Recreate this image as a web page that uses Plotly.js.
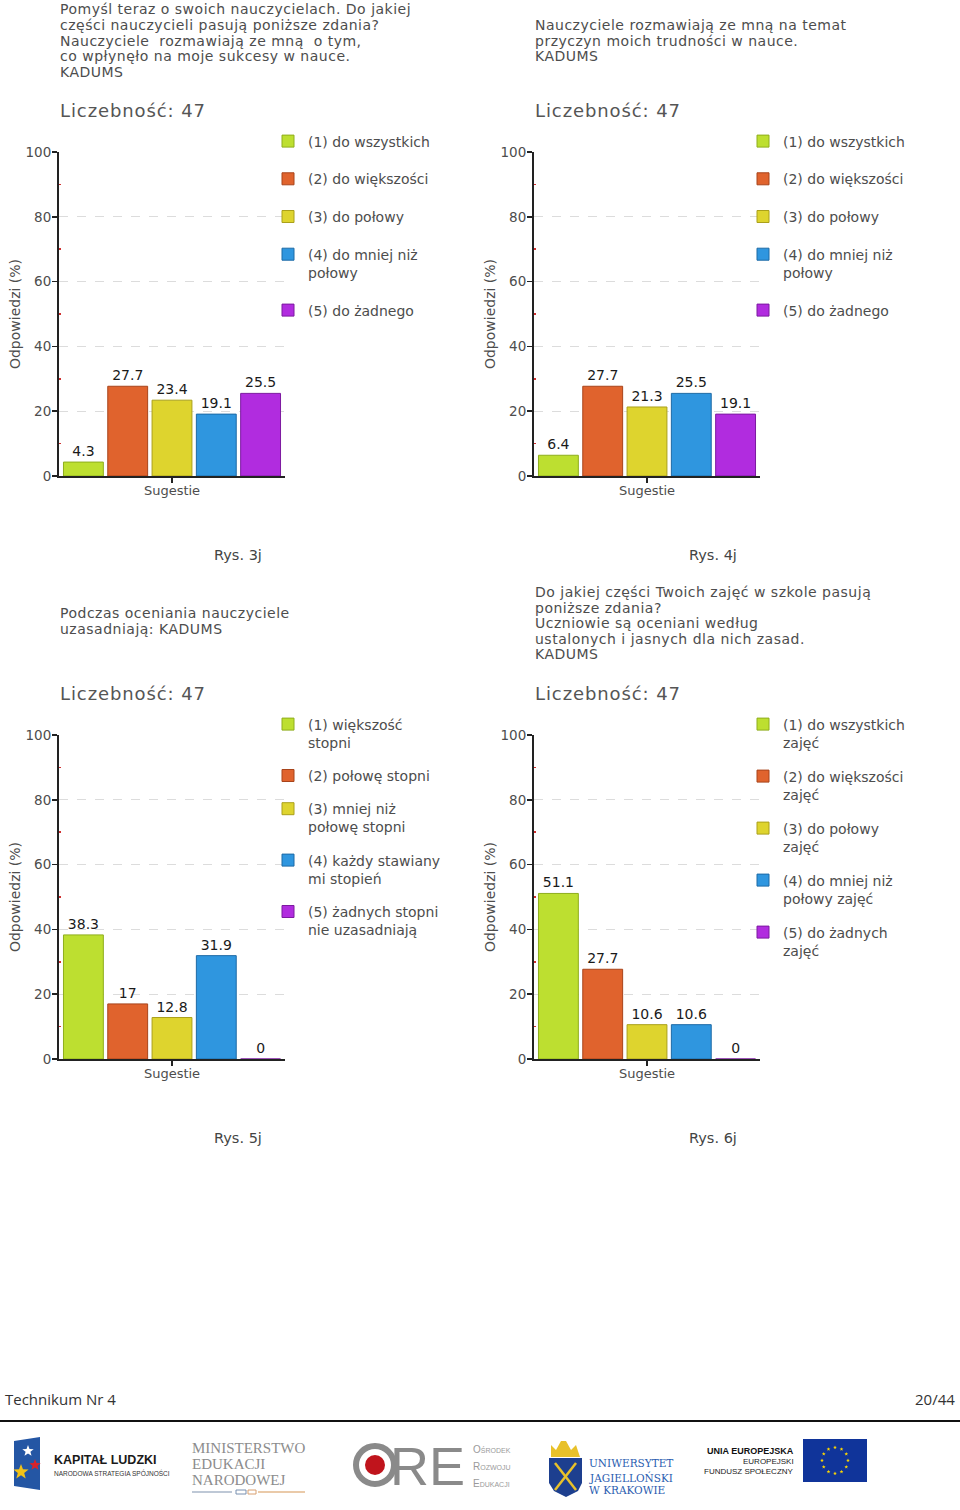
<!DOCTYPE html>
<html><head><meta charset="utf-8">
<script src="https://cdn.plot.ly/plotly-3.0.1.min.js"></script>
<style>html,body{margin:0;padding:0;background:#fff}#chart{width:960px;height:1510px}</style>
</head><body><div id="chart"></div>
<script>
// ---------------- DATA ----------------
const categories = ['Sugestie'];
const yTicks = [0, 20, 40, 60, 80, 100];
const yAxisTitle = 'Odpowiedzi (%)';
const countText = 'Liczebność: 47';

const titles3j = ['Pomyśl teraz o swoich nauczycielach. Do jakiej', 'części nauczycieli pasują poniższe zdania?', 'Nauczyciele  rozmawiają ze mną  o tym,', 'co wpłynęło na moje sukcesy w nauce.', 'KADUMS'];
const labels3j = ['(1) do wszystkich', '(2) do większości', '(3) do połowy', '(4) do mniej niż<br>połowy', '(5) do żadnego'];
const values3j = [4.3, 27.7, 23.4, 19.1, 25.5];

const titles4j = ['Nauczyciele rozmawiają ze mną na temat', 'przyczyn moich trudności w nauce.', 'KADUMS'];
const labels4j = ['(1) do wszystkich', '(2) do większości', '(3) do połowy', '(4) do mniej niż<br>połowy', '(5) do żadnego'];
const values4j = [6.4, 27.7, 21.3, 25.5, 19.1];

const titles5j = ['Podczas oceniania nauczyciele', 'uzasadniają: KADUMS'];
const labels5j = ['(1) większość<br>stopni', '(2) połowę stopni', '(3) mniej niż<br>połowę stopni', '(4) każdy stawiany<br>mi stopień', '(5) żadnych stopni<br>nie uzasadniają'];
const values5j = [38.3, 17, 12.8, 31.9, 0];

const titles6j = ['Do jakiej części Twoich zajęć w szkole pasują', 'poniższe zdania?', 'Uczniowie są oceniani według', 'ustalonych i jasnych dla nich zasad.', 'KADUMS'];
const labels6j = ['(1) do wszystkich<br>zajęć', '(2) do większości<br>zajęć', '(3) do połowy<br>zajęć', '(4) do mniej niż<br>połowy zajęć', '(5) do żadnych<br>zajęć'];
const values6j = [51.1, 27.7, 10.6, 10.6, 0];

const captions = ['Rys. 3j', 'Rys. 4j', 'Rys. 5j', 'Rys. 6j'];
const footerLeft = 'Technikum Nr 4';
const footerRight = '20/44';

// ---------------- STYLE / LAYOUT ----------------
const seriesColors = ['#bddf30', '#e0632d', '#ded42e', '#2f96df', '#b12cdf'];
const seriesLines = ['#8fae1c', '#a8441b', '#aaa01b', '#1d6aa6', '#7c1aa0'];
const W = 960, H = 1510;
const px = x => x / W;
const py = y => 1 - y / H;
const FONT = 'DejaVu Sans, Verdana, sans-serif';
const TXT = '#4d4d4d';

const panels = [
  {titles: titles3j, labels: labels3j, values: values3j, left: 59, right: 285, top: 152, bottom: 476, textX: 58, titleY: [9, 25, 41, 56, 72], countY: 110, capX: 238, capY: 555, legX: 268, legY: 125.5, gap: 16.5},
  {titles: titles4j, labels: labels4j, values: values4j, left: 534, right: 760, top: 152, bottom: 476, textX: 533, titleY: [25, 41, 56], countY: 110, capX: 713, capY: 555, legX: 743, legY: 125.5, gap: 16.5},
  {titles: titles5j, labels: labels5j, values: values5j, left: 59, right: 285, top: 735, bottom: 1059, textX: 58, titleY: [613, 629], countY: 693, capX: 238, capY: 1138, legX: 268, legY: 708.5, gap: 12},
  {titles: titles6j, labels: labels6j, values: values6j, left: 534, right: 760, top: 735, bottom: 1059, textX: 533, titleY: [592, 608, 623, 639, 654], countY: 693, capX: 713, capY: 1138, legX: 743, legY: 708.5, gap: 12.6}
];

const traces = [];
const layout = {
  width: W, height: H,
  margin: {l: 0, r: 0, t: 0, b: 0},
  paper_bgcolor: '#fff', plot_bgcolor: '#fff',
  barmode: 'group', bargap: 0.02, bargroupgap: 0.1,
  font: {family: FONT, size: 13, color: TXT},
  annotations: [], shapes: [],
  hovermode: false
};
const spaced = (t, ls) => '<span style="letter-spacing:' + ls + 'px">' + t + '</span>';

panels.forEach((p, c) => {
  const sfx = c === 0 ? '' : String(c + 1);
  const legName = 'legend' + sfx;
  p.values.forEach((v, i) => {
    traces.push({
      type: 'bar', x: categories, y: [v], name: p.labels[i],
      xaxis: 'x' + sfx, yaxis: 'y' + sfx, legend: legName,
      legendgroup: 'p' + c + 's' + i,
      marker: {color: seriesColors[i], line: {color: seriesLines[i], width: 1}},
      texttemplate: '%{y}', textposition: 'outside', cliponaxis: false,
      textfont: {family: FONT, size: 14, color: '#1a1a1a'}
    });
  });
  layout['xaxis' + sfx] = {
    domain: [px(p.left), px(p.right)], anchor: 'y' + sfx, type: 'category',
    range: [-0.5, 0.5], showline: true, linecolor: '#222', linewidth: 2,
    ticks: 'outside', ticklen: 5, tickcolor: '#222', tickwidth: 1.5, ticklabelstandoff: -4,
    tickfont: {family: FONT, size: 13, color: TXT}, showgrid: false, zeroline: false, fixedrange: true
  };
  layout['yaxis' + sfx] = {
    domain: [py(p.bottom), py(p.top)], anchor: 'x' + sfx, range: [0, 100],
    tickvals: yTicks, showline: true, linecolor: '#222', linewidth: 2,
    ticks: 'outside', ticklen: 5, tickcolor: '#222', tickwidth: 1.5, ticklabelstandoff: -2,
    tickfont: {family: FONT, size: 13.5, color: TXT},
    showgrid: true, gridcolor: '#dcdcdc', griddash: 'dash', gridwidth: 1, zeroline: false,
    minor: {tick0: 10, dtick: 20, ticks: 'inside', ticklen: 2, tickcolor: '#d03030', showgrid: false},
    title: {text: yAxisTitle, font: {family: FONT, size: 14, color: TXT}},
    fixedrange: true
  };
  layout[legName] = {
    x: px(p.legX), y: py(p.legY), xanchor: 'left', yanchor: 'top',
    traceorder: 'grouped', tracegroupgap: p.gap, valign: 'top',
    font: {family: FONT, size: 14, color: TXT}, bgcolor: 'rgba(0,0,0,0)',
    itemclick: false, itemdoubleclick: false
  };
  p.titles.forEach((t, k) => {
    layout.annotations.push({text: spaced(t, 0.5), xref: 'paper', yref: 'paper', x: px(p.textX), y: py(p.titleY[k]),
      xanchor: 'left', yanchor: 'middle', showarrow: false, font: {family: FONT, size: 14, color: TXT}});
  });
  layout.annotations.push({text: spaced(countText, 0.9), xref: 'paper', yref: 'paper', x: px(p.textX), y: py(p.countY),
    xanchor: 'left', yanchor: 'middle', showarrow: false, font: {family: FONT, size: 18, color: '#555'}});
  layout.annotations.push({text: captions[c], xref: 'paper', yref: 'paper', x: px(p.capX), y: py(p.capY),
    xanchor: 'center', yanchor: 'middle', showarrow: false, font: {family: FONT, size: 14.5, color: '#444'}});
});

// footer
const FOOT = 'Open Sans, Noto Sans, sans-serif';
layout.annotations.push({text: footerLeft, xref: 'paper', yref: 'paper', x: px(3), y: py(1399), xanchor: 'left', yanchor: 'middle', showarrow: false, font: {family: FOOT, size: 15, color: '#333'}});
layout.annotations.push({text: footerRight, xref: 'paper', yref: 'paper', x: px(957), y: py(1399), xanchor: 'right', yanchor: 'middle', showarrow: false, font: {family: FOOT, size: 15, color: '#333'}});
layout.shapes.push({type: 'line', xref: 'paper', yref: 'paper', x0: 0, x1: 1, y0: py(1421), y1: py(1421), line: {color: '#111', width: 2}});

// ---- logos (decorative) ----
function ann(text, x, y, size, color, family, anchor) {
  layout.annotations.push({text, xref: 'paper', yref: 'paper', x: px(x), y: py(y), xanchor: anchor || 'left', yanchor: 'middle', showarrow: false, font: {family, size, color}});
}
function pathShape(d, fill, line, lw) {
  layout.shapes.push({type: 'path', xref: 'paper', yref: 'paper', path: d, fillcolor: fill, line: {color: line || fill, width: lw || 0}});
}
function P(pts) { return 'M' + pts.map(q => px(q[0]) + ',' + py(q[1])).join('L') + 'Z'; }
function circ(cx, cy, r, fill, line, lw) {
  layout.shapes.push({type: 'circle', xref: 'paper', yref: 'paper', x0: px(cx - r), x1: px(cx + r), y0: py(cy + r), y1: py(cy - r), fillcolor: fill, line: {color: line || fill, width: lw || 0}});
}
function star(cx, cy, r, fill) {
  const pts = [];
  for (let k = 0; k < 10; k++) {
    const a = -Math.PI / 2 + k * Math.PI / 5;
    const rr = k % 2 ? r * 0.42 : r;
    pts.push([cx + rr * Math.cos(a), cy + rr * Math.sin(a)]);
  }
  pathShape(P(pts), fill);
}
// Kapitał Ludzki
pathShape(P([[14, 1441], [40, 1437], [40, 1490], [14, 1486]]), '#2456a4');
star(28, 1451, 6, '#ffffff');
star(35, 1465, 6, '#d8232a');
star(21, 1472, 8, '#f2c318');
ann('<b>KAPITAŁ LUDZKI</b>', 52, 1460, 12.5, '#1a1a1a', 'Liberation Sans Narrow, Liberation Sans, sans-serif');
ann('NARODOWA STRATEGIA SPÓJNOŚCI', 52, 1473, 6.5, '#333', 'Liberation Sans Narrow, Liberation Sans, sans-serif');
// MEN
ann('MINISTERSTWO', 190, 1448, 15, '#8c8c8c', 'Liberation Serif, DejaVu Serif, serif');
ann('EDUKACJI', 190, 1464, 15, '#8c8c8c', 'Liberation Serif, DejaVu Serif, serif');
ann('NARODOWEJ', 190, 1480, 15, '#8c8c8c', 'Liberation Serif, DejaVu Serif, serif');
layout.shapes.push({type: 'line', xref: 'paper', yref: 'paper', x0: px(192), x1: px(232), y0: py(1492), y1: py(1492), line: {color: '#a9b6c8', width: 1.5}});
layout.shapes.push({type: 'line', xref: 'paper', yref: 'paper', x0: px(258), x1: px(305), y0: py(1492), y1: py(1492), line: {color: '#e3b98c', width: 1.5}});
layout.shapes.push({type: 'rect', xref: 'paper', yref: 'paper', x0: px(236), x1: px(246), y0: py(1494), y1: py(1490), fillcolor: 'rgba(0,0,0,0)', line: {color: '#7890b0', width: 1}});
layout.shapes.push({type: 'rect', xref: 'paper', yref: 'paper', x0: px(248), x1: px(256), y0: py(1494), y1: py(1490), fillcolor: 'rgba(0,0,0,0)', line: {color: '#d8a070', width: 1}});
// ORE
circ(375, 1465, 19, 'rgba(0,0,0,0)', '#8a8a8a', 6);
circ(375, 1465, 10, '#c0141c');
ann('RE', 427, 1466, 54, '#8a8a8a', 'Liberation Sans, Arial, sans-serif', 'center');
ann('O<span style="font-size:7px">ŚRODEK</span>', 471, 1449, 10, '#9a9a9a', 'Liberation Sans, sans-serif');
ann('R<span style="font-size:7px">OZWOJU</span>', 471, 1466, 10, '#9a9a9a', 'Liberation Sans, sans-serif');
ann('E<span style="font-size:7px">DUKACJI</span>', 471, 1483, 10, '#9a9a9a', 'Liberation Sans, sans-serif');
// UJ
pathShape(P([[551, 1445], [556, 1450], [561, 1441], [566, 1441], [571, 1450], [576, 1445], [580, 1457], [551, 1457]]), '#e8c12a');
pathShape(P([[549, 1458], [582, 1458], [582, 1483], [578, 1491], [566, 1497], [554, 1491], [549, 1483]]), '#1d3f8f');
layout.shapes.push({type: 'line', xref: 'paper', yref: 'paper', x0: px(555), x1: px(576), y0: py(1463), y1: py(1490), line: {color: '#e8c12a', width: 2.5}});
layout.shapes.push({type: 'line', xref: 'paper', yref: 'paper', x0: px(576), x1: px(555), y0: py(1463), y1: py(1490), line: {color: '#e8c12a', width: 2.5}});
ann('UNIWERSYTET', 587, 1463, 10.5, '#2a5db0', 'DejaVu Serif, serif');
ann('JAGIELLOŃSKI', 587, 1477, 10.5, '#2a5db0', 'DejaVu Serif, serif');
ann('W KRAKOWIE', 587, 1490, 10.5, '#2a5db0', 'DejaVu Serif, serif');
// UE
ann('<b>UNIA EUROPEJSKA</b>', 796, 1451, 9, '#111', 'Liberation Sans Narrow, Liberation Sans, sans-serif', 'right');
ann('EUROPEJSKI', 796, 1461, 8, '#222', 'Liberation Sans Narrow, Liberation Sans, sans-serif', 'right');
ann('FUNDUSZ SPOŁECZNY', 796, 1471, 8, '#222', 'Liberation Sans Narrow, Liberation Sans, sans-serif', 'right');
layout.shapes.push({type: 'rect', xref: 'paper', yref: 'paper', x0: px(803), x1: px(867), y0: py(1482), y1: py(1439), fillcolor: '#10349a', line: {width: 0}});
for (let k = 0; k < 12; k++) {
  const a = k * Math.PI / 6;
  star(835 + 13 * Math.cos(a), 1460.5 + 13 * Math.sin(a), 2, '#ffd800');
}

Plotly.newPlot('chart', traces, layout, {staticPlot: true, displayModeBar: false});
</script>
</body></html>
